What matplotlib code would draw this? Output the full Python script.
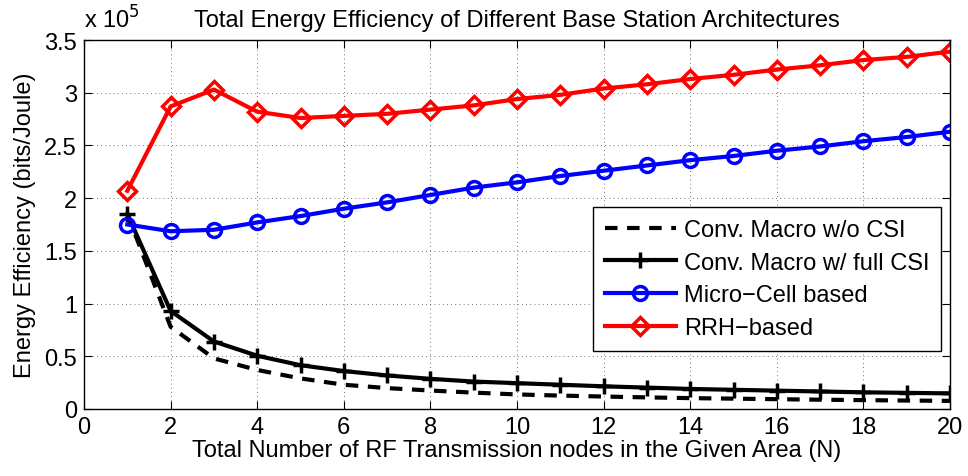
import numpy as np
import matplotlib
matplotlib.use("Agg")
import matplotlib.pyplot as plt

plt.rcParams["font.family"] = ["Liberation Sans", "DejaVu Sans"]

# number of RF transmission nodes
n_nodes = list(range(1, 21))

# energy efficiency, in units of 1e5 bits/Joule
ee_macro_nocsi = [1.85, 0.78, 0.48, 0.37, 0.29, 0.23, 0.198, 0.175, 0.155, 0.138,
                  0.127, 0.118, 0.11, 0.103, 0.098, 0.093, 0.088, 0.084, 0.08, 0.077]
ee_macro_fullcsi = [1.85, 0.93, 0.64, 0.505, 0.415, 0.36, 0.318, 0.286, 0.26, 0.245,
                    0.23, 0.215, 0.203, 0.19, 0.182, 0.174, 0.166, 0.158, 0.153, 0.148]
ee_micro = [1.75, 1.686, 1.70, 1.77, 1.83, 1.90, 1.96, 2.03, 2.10, 2.15,
            2.21, 2.26, 2.31, 2.36, 2.40, 2.45, 2.49, 2.54, 2.58, 2.63]
ee_rrh = [2.07, 2.87, 3.03, 2.82, 2.76, 2.78, 2.80, 2.84, 2.88, 2.94,
          2.98, 3.04, 3.08, 3.13, 3.17, 3.22, 3.26, 3.31, 3.34, 3.39]

labels = ["Conv. Macro w/o CSI", "Conv. Macro w/ full CSI",
          "Micro\u2212Cell based", "RRH\u2212based"]

fs = 17
fig = plt.figure(figsize=(9.68, 4.77), dpi=100)
ax = fig.add_axes([0.0868, 0.1405, 0.8946, 0.7735])

lw = 3.0
ax.plot(n_nodes, ee_macro_nocsi, "k--", lw=lw, dashes=(3, 2.3), label=labels[0])
ax.plot(n_nodes, ee_macro_fullcsi, "k-", lw=lw, marker="+", ms=11, mew=2.5,
        label=labels[1])
ax.plot(n_nodes, ee_micro, "-", color="#0000ff", lw=lw, marker="o", ms=10,
        mew=2.5, mfc="none", label=labels[2])
ax.plot(n_nodes, ee_rrh, "-", color="#ff0000", lw=lw, marker="D", ms=9.5,
        mew=2.5, mfc="none", label=labels[3])

ax.set_xlim(0, 20)
ax.set_ylim(0, 3.5)
ax.set_xticks(range(0, 21, 2))
ax.set_yticks(np.arange(0, 3.51, 0.5))
ax.set_yticklabels(["0", "0.5", "1", "1.5", "2", "2.5", "3", "3.5"])
ax.tick_params(direction="in", length=6, width=0.8, top=True, right=True,
               labelsize=fs)
ax.tick_params(axis="x", pad=5)
ax.tick_params(axis="y", pad=5)
ax.grid(True, color="#444444", linestyle=(0, (1, 4)), linewidth=0.6)
for s in ax.spines.values():
    s.set_linewidth(1.0)

ax.set_title("Total Energy Efficiency of Different Base Station Architectures",
             fontsize=fs, pad=10)
ax.set_xlabel("Total Number of RF Transmission nodes in the Given Area (N)",
              fontsize=fs, labelpad=1)
ax.set_ylabel("Energy Efficiency (bits/Joule)", fontsize=fs, labelpad=6)
ax.text(0.0, 1.02, r"x 10$^5$", transform=ax.transAxes, fontsize=fs,
        ha="left", va="bottom")

leg = ax.legend(loc="upper right", bbox_to_anchor=(0.99, 0.547), fontsize=fs,
                fancybox=False, framealpha=1, edgecolor="black",
                borderaxespad=0, handlelength=3.0, borderpad=0.5,
                labelspacing=0.45, handletextpad=0.35)
leg.get_frame().set_linewidth(1.0)

fig.savefig("out.png", dpi=100)
